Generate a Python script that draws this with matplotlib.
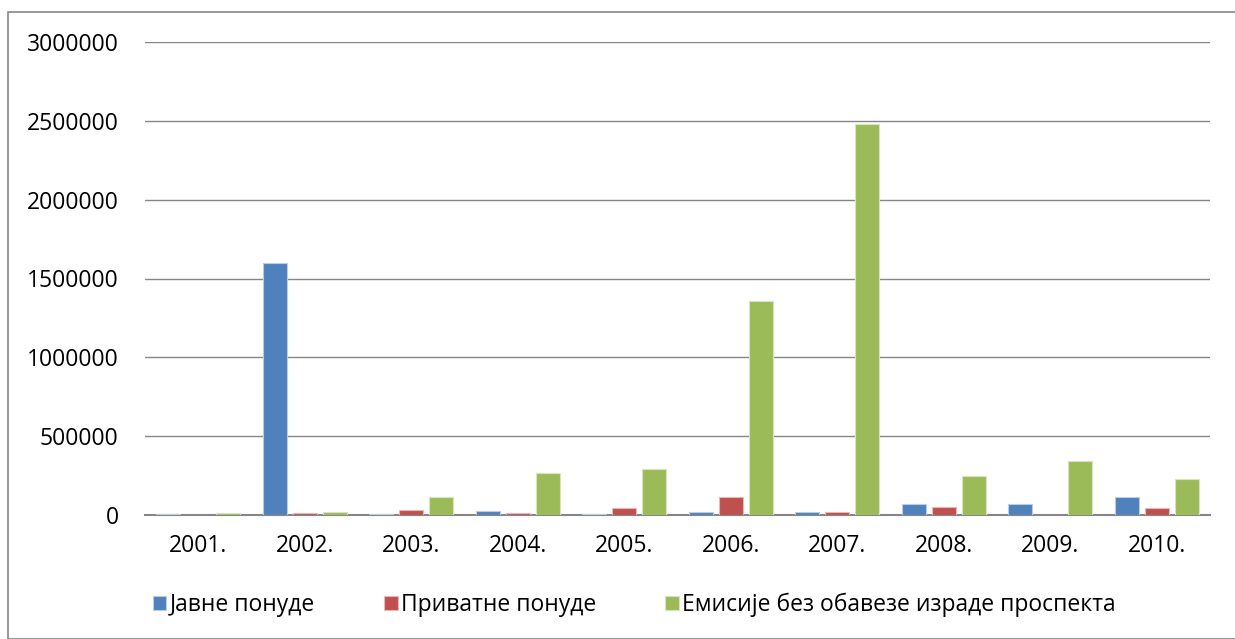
import matplotlib
matplotlib.use("Agg")
import matplotlib.pyplot as plt
import numpy as np
from matplotlib.patches import Rectangle

plt.rcParams['font.family'] = ['Open Sans', 'DejaVu Sans']

years = ['2001.', '2002.', '2003.', '2004.', '2005.', '2006.', '2007.', '2008.', '2009.', '2010.']
javne = [4000, 1600000, 8000, 28000, 8000, 22000, 16000, 72000, 67000, 115000]
privatne = [1500, 10000, 33000, 10000, 44000, 113000, 17000, 50000, 3000, 42000]
emisije = [10000, 20000, 115000, 266000, 290000, 1360000, 2480000, 248000, 340000, 226000]
series_names = ['Јавне понуде', 'Приватне понуде', 'Емисије без обавезе израде проспекта']
colors = ['#4F81BD', '#C0504D', '#9BBB59']
edges = ['#B9CDE5', '#E6B9B8', '#D7E4BD']

fig = plt.figure(figsize=(12.35, 6.39), dpi=100)
W, H = 1235, 639
ax = fig.add_axes([145 / W, 1 - 515 / H, (1210 - 145) / W, (515 - 42) / H])

x = np.arange(len(years))
step = 0.282
bw = 0.225
for i, (vals, c, e, n) in enumerate(zip([javne, privatne, emisije], colors, edges, series_names)):
    ax.bar(x + (i - 1) * step, vals, width=bw, color=c, edgecolor=e, linewidth=0.8, label=n, zorder=3)

ax.set_xlim(-0.5, len(years) - 0.5)
ax.set_ylim(0, 3000000)
ax.set_yticks(np.arange(0, 3000001, 500000))
ax.set_yticklabels([f'{int(v)}' for v in np.arange(0, 3000001, 500000)])
ax.set_xticks(x)
ax.set_xticklabels(years)
ax.yaxis.grid(True, color='#868686', linewidth=1.0, zorder=0)
ax.set_axisbelow(True)
for s in ['top', 'right', 'left']:
    ax.spines[s].set_visible(False)
ax.spines['bottom'].set_color('#868686')
ax.spines['bottom'].set_linewidth(1.5)
ax.tick_params(axis='both', length=0, labelsize=16.5, colors='black')
ax.tick_params(axis='y', pad=19)
ax.tick_params(axis='x', pad=14)

leg = fig.legend(loc='center left', bbox_to_anchor=(132 / W, 1 - 605 / H), ncol=3, frameon=False,
                 fontsize=16.5, handlelength=0.6, handleheight=0.6, handletextpad=0.15, columnspacing=3.0)

fig.add_artist(Rectangle((8 / W, 0), (W + 10) / W, 1 - 12 / H, transform=fig.transFigure,
                         fill=False, edgecolor='#868686', linewidth=1.2))

fig.savefig('out.png', dpi=100)
